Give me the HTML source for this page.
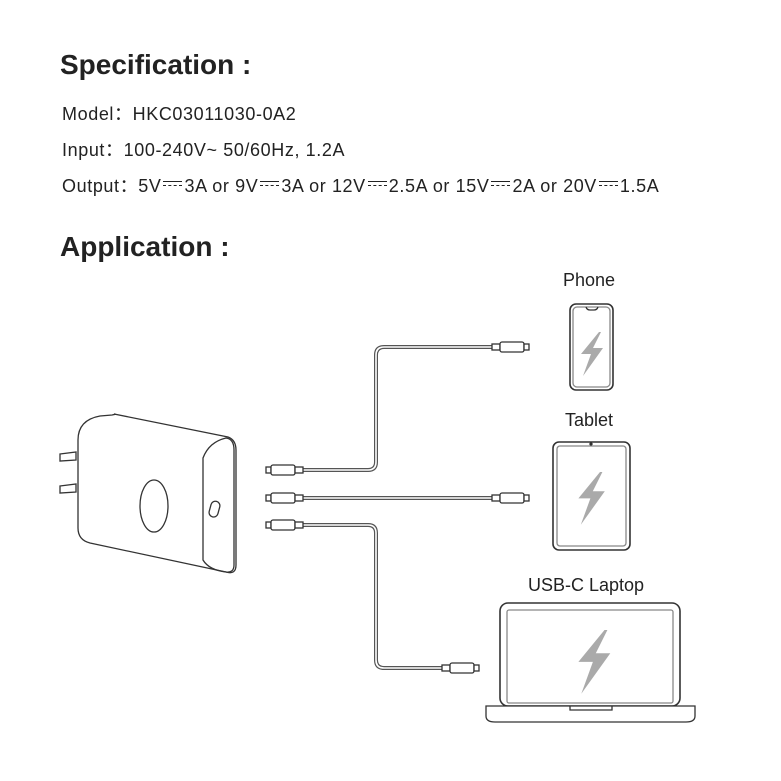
<!DOCTYPE html>
<html><head><meta charset="utf-8"><style>
body{margin:0;background:#fff;width:781px;height:781px;overflow:hidden;font-family:"Liberation Sans",sans-serif;color:#222}
.t{position:absolute;white-space:nowrap}
.s{font-size:18px;letter-spacing:0.6px}
.dc{display:inline-block;width:19px;height:7px;margin:0 2px;vertical-align:3px;border-top:1.5px solid #222;position:relative}
.dc:after{content:"";position:absolute;left:0;right:0;top:3px;border-top:1.5px dashed #222}
</style></head><body>
<div class="t" style="left:60px;top:49px;font-size:28px;font-weight:bold">Specification :</div>
<div class="t s" style="left:62px;top:100px">Model：HKC03011030-0A2</div>
<div class="t s" style="left:62px;top:136px">Input：100-240V~ 50/60Hz, 1.2A</div>
<div class="t s" style="left:62px;top:172px">Output：5V<span class="dc"></span>3A or 9V<span class="dc"></span>3A or 12V<span class="dc"></span>2.5A or 15V<span class="dc"></span>2A or 20V<span class="dc"></span>1.5A</div>
<div class="t" style="left:60px;top:231px;font-size:28px;font-weight:bold">Application :</div>
<div class="t" style="left:563px;top:270px;font-size:18px">Phone</div>
<div class="t" style="left:565px;top:410px;font-size:18px">Tablet</div>
<div class="t" style="left:528px;top:575px;font-size:18px">USB-C Laptop</div>
<svg width="781" height="781" style="position:absolute;left:0;top:0" fill="none" stroke="#333" stroke-width="1.3">
<defs>
<g id="c"><rect x="0" y="-3" width="8" height="6" fill="#fff"/><rect x="8" y="-5" width="24" height="10" rx="2" fill="#fff"/><rect x="32" y="-3" width="5" height="6" fill="#fff"/></g>
<g id="c2"><rect x="0" y="-3" width="5" height="6" fill="#fff"/><rect x="5" y="-5" width="24" height="10" rx="2" fill="#fff"/><rect x="29" y="-3" width="8" height="6" fill="#fff"/></g>
<path id="bolt" d="M10 0 L-8 22 L2 22 L-6 44 L14 16 L4 16 L12 0 Z" fill="#aaa" stroke="none"/>
</defs>
<g stroke="#555" stroke-width="4"><path d="M300 470 H368 Q376 470 376 462 V355 Q376 347 384 347 H492"/><path d="M300 498 H492"/><path d="M300 525 H368 Q376 525 376 533 V660 Q376 668 384 668 H442"/></g>
<g stroke="#fff" stroke-width="1.6"><path d="M300 470 H368 Q376 470 376 462 V355 Q376 347 384 347 H492"/><path d="M300 498 H492"/><path d="M300 525 H368 Q376 525 376 533 V660 Q376 668 384 668 H442"/></g>
<use href="#c2" x="266" y="470"/><use href="#c2" x="266" y="498"/><use href="#c2" x="266" y="525"/>
<use href="#c" x="492" y="347"/><use href="#c" x="492" y="498"/><use href="#c" x="442" y="668"/>
<path d="M60 454 L76 452 L76 460 L60 461 Z M60 486 L76 484 L76 492 L60 493 Z" fill="#fff"/>
<path d="M112 415 Q117 414 114 414 L228 437 Q236 440 236 450 V565 Q236 575 226 572 L90 543 Q78 540 78 528 V440 Q78 420 100 416 Z" fill="#fff"/>
<path d="M203 458 Q209 442 226 438 Q234 439 234 450 V565 Q234 573 226 572 Q209 570 203 560 Z"/>
<ellipse cx="154" cy="506" rx="14" ry="26"/>
<rect x="210" y="501" width="9" height="16" rx="4.5" transform="rotate(15 214 509)"/>
<rect x="570" y="304" width="43" height="86" rx="6" stroke-width="1.6"/><rect x="573" y="307" width="37" height="80" rx="4" stroke="#888"/>
<path d="M586 307 Q587 310 590 310 H594 Q597 310 598 307" /><use href="#bolt" x="589" y="332"/>
<rect x="553" y="442" width="77" height="108" rx="6" stroke-width="1.6"/><rect x="557" y="446" width="69" height="100" rx="3" stroke="#888"/>
<circle cx="591" cy="444" r="1" fill="#333"/>
<g transform="translate(588 472) scale(1.2)"><use href="#bolt"/></g>
<rect x="500" y="603" width="180" height="103" rx="8" stroke-width="1.6"/><rect x="507" y="610" width="166" height="93" rx="2" stroke="#888"/>
<path d="M486 706 H695 V716 Q695 722 686 722 H495 Q486 722 486 716 Z" fill="#fff"/><path d="M570 706 V710 H612 V706"/>
<g transform="translate(590 630) scale(1.45)"><use href="#bolt"/></g>
</svg>
</body></html>
